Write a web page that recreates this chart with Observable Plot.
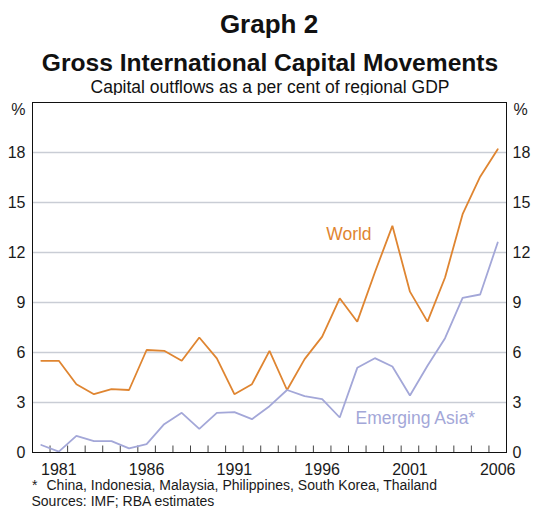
<!DOCTYPE html>
<html>
<head>
<meta charset="utf-8">
<script src="https://cdn.jsdelivr.net/npm/d3@7"></script>
<script src="https://cdn.jsdelivr.net/npm/@observablehq/plot@0.6"></script>
<style>
  html, body { margin: 0; padding: 0; background: #fff; }
  #wrap { position: relative; width: 534px; height: 509px; font-family: "Liberation Sans", Arial, Helvetica, sans-serif; color: #111; overflow: hidden; }
  .t { position: absolute; left: 3px; width: 534px; text-align: center; white-space: nowrap; }
  #g { top: 11px; font-size: 26px; line-height: 26px; font-weight: bold; left: 2px; }
  #title { top: 51px; font-size: 24.6px; line-height: 24.6px; font-weight: bold; }
  #sub { top: 79px; font-size: 17.5px; line-height: 17.5px; }
  #chart { position: absolute; left: 0; top: 95px; }
  .f { position: absolute; font-size: 14px; line-height: 14px; white-space: nowrap; color: #1a1a1a; }
</style>
</head>
<body>
<div id="wrap">
  <div class="t" id="g">Graph 2</div>
  <div class="t" id="title">Gross International Capital Movements</div>
  <div class="t" id="sub">Capital outflows as a per cent of regional GDP</div>
  <div id="chart"></div>
  <div class="f" style="left:32px; top:477.5px;">*</div>
  <div class="f" style="left:46.5px; top:477.5px;">China, Indonesia, Malaysia, Philippines, South Korea, Thailand</div>
  <div class="f" style="left:31.5px; top:494px;">Sources: IMF; RBA estimates</div>
</div>
<script>
const years = [1980,1981,1982,1983,1984,1985,1986,1987,1988,1989,1990,1991,1992,1993,1994,1995,1996,1997,1998,1999,2000,2001,2002,2003,2004,2005,2006];
const world = [5.5,5.5,4.1,3.5,3.8,3.75,6.15,6.1,5.5,6.9,5.65,3.5,4.1,6.1,3.75,5.6,6.95,9.25,7.85,10.8,13.6,9.65,7.85,10.5,14.3,16.55,18.2];
const asia  = [0.45,0.05,1.0,0.68,0.68,0.25,0.5,1.7,2.38,1.42,2.38,2.42,2.0,2.78,3.75,3.38,3.2,2.1,5.08,5.66,5.16,3.42,5.2,6.86,9.28,9.48,12.6];
const yTicks = [0,3,6,9,12,15,18];
const gridTicks = [3,6,9,12,15,18];
const xTickLabels = [1981,1986,1991,1996,2001,2006];
const seriesNames = ["World", "Emerging Asia*"];
const seriesColors = ["#df8531", "#a3a7d8"];
const labelYears = [1996.23, 1997.9];
const labelValues = [12.78, 1.72];

const rows = [];
years.forEach((yr, i) => {
  rows.push({year: yr, value: world[i], series: seriesNames[0]});
  rows.push({year: yr, value: asia[i], series: seriesNames[1]});
});
const boundaries = years.slice(0, -1).map(y => y + 0.5);
const labels = seriesNames.map((s, i) => ({name: s, x: labelYears[i], y: labelValues[i], color: seriesColors[i]}));

const yMax = 21;
const chart = Plot.plot({
  width: 534,
  height: 381,
  marginLeft: 32,
  marginRight: 28,
  marginTop: 7,
  marginBottom: 24,
  x: {domain: [years[0] - 0.5, years[years.length - 1] + 0.5]},
  y: {domain: [0, yMax]},
  color: {domain: seriesNames, range: seriesColors},
  style: {fontFamily: "'Liberation Sans', Arial, Helvetica, sans-serif", fontSize: "16px", color: "#1a1a1a", background: "#fff", overflow: "visible"},
  marks: [
    Plot.gridY(gridTicks, {stroke: "#c9cdd5", strokeOpacity: 1, strokeWidth: 1.5}),
    Plot.ruleX(boundaries, {x: d => d, y1: 0, y2: yMax * 6.5 / 350, stroke: "#444", strokeWidth: 1}),
    Plot.line(rows, {x: "year", y: "value", z: "series", stroke: "series", strokeWidth: 1.8, strokeLinejoin: "miter"}),
    Plot.frame({stroke: "#111", strokeWidth: 1}),
    Plot.axisY(yTicks, {anchor: "left", tickSize: 0, tickPadding: 7, fontSize: 16}),
    Plot.axisY(yTicks, {anchor: "right", tickSize: 0, tickPadding: 6, fontSize: 16}),
    Plot.axisX(xTickLabels, {anchor: "bottom", tickSize: 0, tickPadding: 11, fontSize: 16, tickFormat: d => String(d)}),
    Plot.text(["%"], {frameAnchor: "top-left", textAnchor: "end", lineAnchor: "middle", dx: -7, dy: 7, fontSize: 16, fill: "#1a1a1a"}),
    Plot.text(["%"], {frameAnchor: "top-right", textAnchor: "start", lineAnchor: "middle", dx: 7, dy: 7, fontSize: 16, fill: "#1a1a1a"}),
    Plot.text(labels, {x: "x", y: "y", text: "name", fill: d => d.color, textAnchor: "start", lineAnchor: "bottom", fontSize: 17.5})
  ]
});
document.getElementById("chart").appendChild(chart);
</script>
</body>
</html>
